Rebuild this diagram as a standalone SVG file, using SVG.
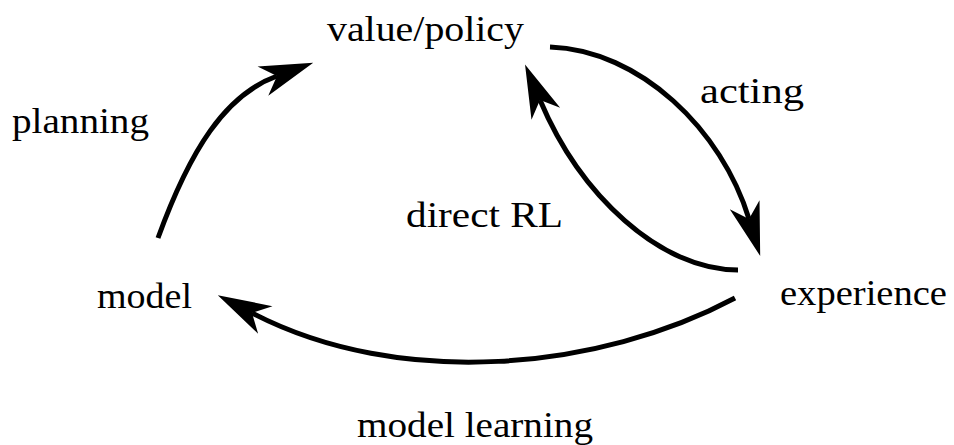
<svg xmlns="http://www.w3.org/2000/svg" width="954" height="445" viewBox="0 0 954 445">
  <style>
    .lbl { font-family: "Liberation Serif", "Times New Roman", serif; font-size: 36px; fill: #000; }
    .edge { fill: none; stroke: #000; stroke-width: 5; stroke-linecap: butt; }
  </style>
  <defs>
    <!-- stealth arrowhead; origin sits at the notch where the line ends -->
    <marker id="stealth" markerUnits="userSpaceOnUse" orient="auto" refX="0" refY="0"
            markerWidth="60" markerHeight="40" viewBox="-16 -16 56 32" overflow="visible">
      <path d="M36,0 L-14,-14.5 L0,0 L-14,14.5 Z" fill="#000"/>
    </marker>
  </defs>

  <rect width="954" height="445" fill="#fff"/>

  <g id="connectors">
    <!-- planning: model -> value/policy -->
    <path class="edge" d="M158,238 C190,150 225,95 277,76" marker-end="url(#stealth)"/>
    <!-- acting: value/policy -> experience -->
    <path class="edge" d="M550,47 C640,50 722,130 749,219" marker-end="url(#stealth)"/>
    <!-- direct RL: experience -> value/policy -->
    <path class="edge" d="M738,270 C660,270 580,195 540,100" marker-end="url(#stealth)"/>
    <!-- model learning: experience -> model -->
    <path class="edge" d="M735,298 C600,370 400,390 252,313" marker-end="url(#stealth)"/>
  </g>

  <g id="value-policy"><text class="lbl" x="327" y="41" textLength="197" lengthAdjust="spacingAndGlyphs">value/policy</text></g>
  <g id="experience"><text class="lbl" x="780" y="305" textLength="167" lengthAdjust="spacingAndGlyphs">experience</text></g>
  <g id="model"><text class="lbl" x="97" y="308" textLength="95" lengthAdjust="spacingAndGlyphs">model</text></g>

  <g id="edge-labels">
    <text class="lbl" x="12" y="133" textLength="137" lengthAdjust="spacingAndGlyphs">planning</text>
    <text class="lbl" x="700" y="103" textLength="104" lengthAdjust="spacingAndGlyphs">acting</text>
    <text class="lbl" x="406" y="227" textLength="157" lengthAdjust="spacingAndGlyphs">direct RL</text>
    <text class="lbl" x="357" y="437" textLength="236" lengthAdjust="spacingAndGlyphs">model learning</text>
  </g>
</svg>
